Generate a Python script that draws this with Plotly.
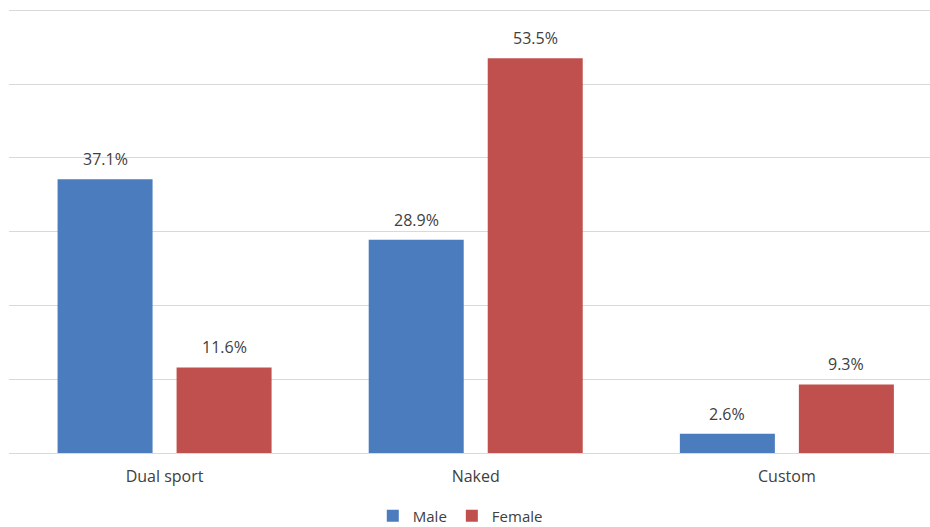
import plotly.graph_objects as go

categories = ["Dual sport", "Naked", "Custom"]
male = [37.1, 28.9, 2.6]
female = [11.6, 53.5, 9.3]
series_names = ["Male", "Female"]
colors = ["#4a7cbe", "#c0504d"]

FONT = "Open Sans"
TXT = "#404040"
BARGAP = 0.235
GROUPGAP = 0.2017

fig = go.Figure()
for name, vals, col in zip(series_names, [male, female], colors):
    fig.add_trace(go.Bar(
        name=name, x=categories, y=vals,
        marker=dict(color=col, line=dict(width=0)),
    ))

# value labels centred over each bar
slot = (1 - BARGAP) / 2
for k, vals in enumerate([male, female]):
    dx = (k - 0.5) * slot
    for i, v in enumerate(vals):
        fig.add_annotation(x=i + dx, y=v, text=f"{v:.1f}%", showarrow=False,
                           xref="x", yref="y", yanchor="middle", yshift=20,
                           font=dict(family=FONT, size=16, color=TXT))

fig.update_layout(
    width=930, height=527,
    margin=dict(l=9, r=0, t=3, b=74, autoexpand=False),
    paper_bgcolor="white", plot_bgcolor="white",
    barmode="group", bargap=BARGAP, bargroupgap=GROUPGAP,
    showlegend=True,
    legend=dict(orientation="h", x=0.49, xanchor="center", y=-0.14, yanchor="middle",
                font=dict(family=FONT, size=15, color=TXT), itemwidth=30,
                traceorder="normal"),
    xaxis=dict(range=[-0.5, 2.46], showgrid=False, showline=False, ticks="",
               tickfont=dict(family=FONT, size=16, color=TXT), ticklabelstandoff=12,
               automargin=False, fixedrange=True),
    yaxis=dict(range=[0, 61], tickvals=[0, 10, 20, 30, 40, 50, 60], showgrid=True,
               gridcolor="#d9d9d9", gridwidth=1,
               zeroline=True, zerolinecolor="#d9d9d9", zerolinewidth=1,
               showticklabels=False, ticks="", showline=False, automargin=False),
)

fig.write_html("out.html")
